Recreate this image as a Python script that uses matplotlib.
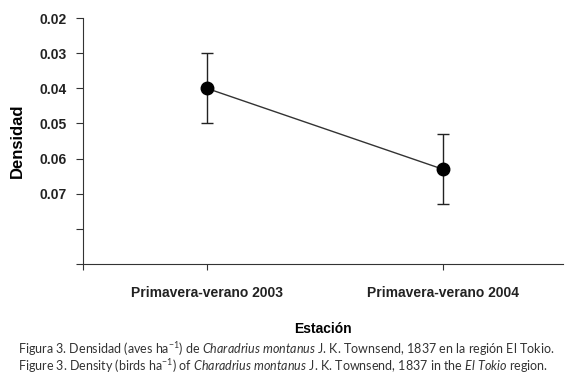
import matplotlib
matplotlib.use("Agg")
import matplotlib.pyplot as plt

estaciones = ["Primavera-verano 2003", "Primavera-verano 2004"]
densidad = [0.040, 0.063]
error = [0.010, 0.010]
yticks = [0.02, 0.03, 0.04, 0.05, 0.06, 0.07, 0.08, 0.09]
ylabels = ["0.02", "0.03", "0.04", "0.05", "0.06", "0.07", "", ""]

plt.rcParams['font.family'] = ['Liberation Sans', 'DejaVu Sans']
plt.rcParams['mathtext.fontset'] = 'custom'
plt.rcParams['mathtext.rm'] = 'Lato'
plt.rcParams['mathtext.it'] = 'Lato:italic'

fig = plt.figure(figsize=(5.72, 3.84), dpi=100)
ax = fig.add_axes([0.145, 0.3125, 0.839, 0.6405])

x = list(range(len(estaciones)))
ax.errorbar(x, densidad, yerr=error, fmt='o-', color='#333333', ms=9,
            lw=1, ecolor='#222222', elinewidth=1, capsize=4, capthick=1,
            markerfacecolor='black', markeredgecolor='black')

ax.set_ylim(0.09, 0.02)
ax.set_xlim(-0.525, 1.51)
ax.set_yticks(yticks)
ax.set_yticklabels(ylabels, fontsize=10, fontweight='bold')
ax.set_xticks([-0.525, 0, 1])
ax.set_xticklabels(["", estaciones[0], estaciones[1]], fontsize=10, fontweight='bold')
ax.tick_params(axis='y', direction='out', length=5, width=0.8, pad=7, colors='#333333', labelcolor='#222222')
ax.tick_params(axis='x', direction='out', length=4, width=0.8, pad=12, colors='#333333', labelcolor='#222222')

for s in ['top', 'right']:
    ax.spines[s].set_visible(False)
for s in ['left', 'bottom']:
    ax.spines[s].set_color('#333333')
    ax.spines[s].set_linewidth(0.8)

ax.set_ylabel("Densidad", fontsize=12, fontweight='bold', labelpad=10)
ax.set_xlabel("Estación", fontsize=10, fontweight='bold', labelpad=16)

cap1 = r"Figura 3. Densidad (aves ha$^{-1}$) de $\it{Charadrius\ montanus}$ J. K. Townsend, 1837 en la región El Tokio."
cap2 = r"Figure 3. Density (birds ha$^{-1}$) of $\it{Charadrius\ montanus}$ J. K. Townsend, 1837 in the $\it{El\ Tokio}$ region."
fig.text(0.031, 0.092, cap1, fontsize=9.0, family='Lato', color='#333333', va='center')
fig.text(0.031, 0.047, cap2, fontsize=9.0, family='Lato', color='#333333', va='center')

fig.savefig("out.png", dpi=100)
